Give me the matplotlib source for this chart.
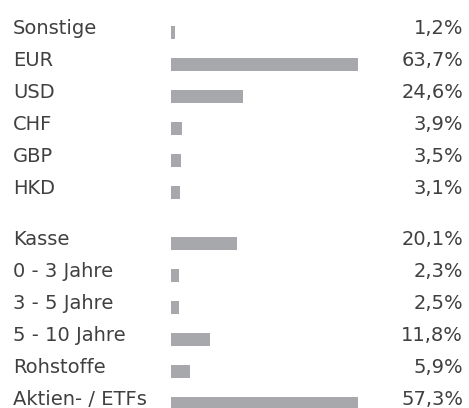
import matplotlib
matplotlib.use("Agg")
import matplotlib.pyplot as plt
from matplotlib.transforms import blended_transform_factory

# Waehrungen
waehrung_namen = ["Sonstige", "EUR", "USD", "CHF", "GBP", "HKD"]
waehrung_werte = [1.2, 63.7, 24.6, 3.9, 3.5, 3.1]

# Anlageklassen
klassen_namen = ["Kasse", "0 - 3 Jahre", "3 - 5 Jahre", "5 - 10 Jahre",
                 "Rohstoffe", "Aktien- / ETFs"]
klassen_werte = [20.1, 2.3, 2.5, 11.8, 5.9, 57.3]

W, H = 469, 408
ROW = 32          # Zeilenabstand in Pixel
BAR_COLOR = "#a7a8ab"
TEXT_COLOR = "#404040"

plt.rcParams["font.family"] = ["DejaVu Sans"]

fig = plt.figure(figsize=(W / 100, H / 100), dpi=100)


def gruppe(top_px, namen, werte):
    n = len(namen)
    # Achse: oberer Rand top_px, Hoehe n Zeilen
    left = 171 / W
    width = 187 / W
    bottom = (H - top_px - n * ROW) / H
    ax = fig.add_axes([left, bottom, width, n * ROW / H])
    ax.barh(range(n), werte, height=13 / ROW, color=BAR_COLOR, linewidth=0)
    ax.set_xlim(0, max(werte))
    ax.set_ylim(n - 0.5, -0.5)
    ax.axis("off")

    trans = blended_transform_factory(fig.transFigure, ax.transData)
    for i, (name, wert) in enumerate(zip(namen, werte)):
        y = i + 2 / ROW
        ax.text(13 / W, y, name, transform=trans, ha="left", va="baseline",
                fontsize=14, color=TEXT_COLOR, clip_on=False)
        txt = f"{wert:.1f}%".replace(".", ",")
        ax.text(463 / W, y, txt, transform=trans, ha="right", va="baseline",
                fontsize=14, color=TEXT_COLOR, clip_on=False)
    return ax


gruppe(16, waehrung_namen, waehrung_werte)
gruppe(227, klassen_namen, klassen_werte)

fig.savefig("out.png", dpi=100, facecolor="white")
